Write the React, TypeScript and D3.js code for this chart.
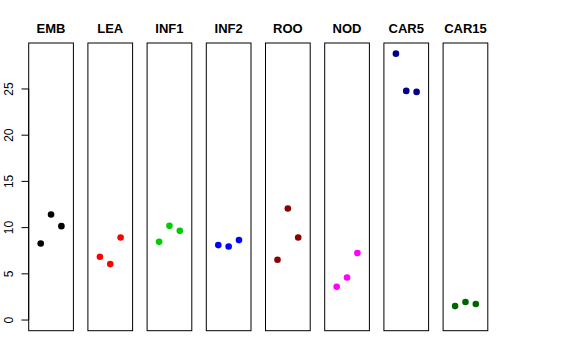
import React from "react";
import * as d3 from "d3";

const panels = ["EMB", "LEA", "INF1", "INF2", "ROO", "NOD", "CAR5", "CAR15"];
const colors = ["#000000", "#FF0000", "#00CD00", "#0000FF", "#8B0000", "#FF00FF", "#00008B", "#006400"];
const values: number[][] = [
  [8.28, 11.42, 10.16],
  [6.84, 6.05, 8.93],
  [8.46, 10.19, 9.65],
  [8.11, 7.96, 8.65],
  [6.52, 12.07, 8.93],
  [3.6, 4.61, 7.24],
  [28.82, 24.79, 24.68],
  [1.51, 1.95, 1.73],
];
const yTicks = [0, 5, 10, 15, 20, 25];

export default function App() {
  const W = 576, H = 360;
  const top = 43, bottom = 330.7;
  const ymax = 28.82;
  const ext = ymax * 0.04;
  const y = d3.scaleLinear().domain([-ext, ymax + ext]).range([bottom, top]);
  const band = d3.scaleBand<string>().domain(panels).range([28.7, 487.8]).paddingInner(0.245).paddingOuter(0);
  const bw = band.bandwidth();
  const x = d3.scaleLinear().domain([-0.16, 4.16]).range([0, bw]);
  const font = "'Liberation Sans', Arial, Helvetica, sans-serif";
  const axisX = band(panels[0])!;
  return (
    <svg width={W} height={H} style={{ position: "absolute", left: 0, top: 0, background: "#fff" }}>
      {panels.map((p, i) => {
        const px = band(p)!;
        return (
          <g key={p}>
            <rect x={px} y={top} width={bw} height={bottom - top} fill="none" stroke="#000" strokeWidth={1} />
            <text x={px + bw / 2} y={33.3} textAnchor="middle" fontFamily={font} fontWeight="bold" fontSize={13}>{p}</text>
            {values[i].map((v, j) => (
              <circle key={j} cx={px + x(j + 1)} cy={y(v)} r={3.3} fill={colors[i]} />
            ))}
          </g>
        );
      })}
      <line x1={axisX} x2={axisX} y1={y(0)} y2={y(25)} stroke="#000" />
      {yTicks.map((t) => (
        <g key={t}>
          <line x1={axisX - 7.2} x2={axisX} y1={y(t)} y2={y(t)} stroke="#000" />
          <text transform={`translate(13,${y(t)}) rotate(-90)`} textAnchor="middle" fontFamily={font} fontSize={12}>{t}</text>
        </g>
      ))}
    </svg>
  );
}
